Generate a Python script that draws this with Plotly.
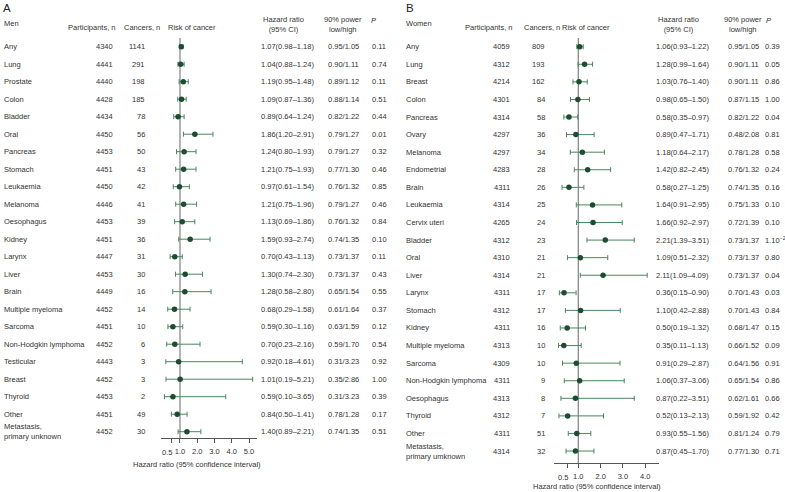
import plotly.graph_objects as go

# ---------------- DATA ----------------
men_sites = ["Any", "Lung", "Prostate", "Colon", "Bladder", "Oral", "Pancreas", "Stomach",
             "Leukaemia", "Melanoma", "Oesophagus", "Kidney", "Larynx", "Liver", "Brain",
             "Multiple myeloma", "Sarcoma", "Non-Hodgkin lymphoma", "Testicular", "Breast",
             "Thyroid", "Other", "Metastasis,<br>primary unknown"]
men_participants = [4340, 4441, 4440, 4428, 4434, 4450, 4453, 4451, 4450, 4446, 4453, 4451,
                    4447, 4453, 4449, 4452, 4451, 4452, 4443, 4452, 4453, 4451, 4452]
men_cancers = [1141, 291, 198, 185, 78, 56, 50, 43, 42, 41, 39, 36, 31, 30, 16, 14, 10, 6,
               3, 3, 2, 49, 30]
men_hr = [1.07, 1.04, 1.19, 1.09, 0.89, 1.86, 1.24, 1.21, 0.97, 1.21, 1.13, 1.59, 0.70, 1.30,
          1.28, 0.68, 0.59, 0.70, 0.92, 1.01, 0.59, 0.84, 1.40]
men_lo = [0.98, 0.88, 0.95, 0.87, 0.64, 1.20, 0.80, 0.75, 0.61, 0.75, 0.69, 0.93, 0.43, 0.74,
          0.58, 0.29, 0.30, 0.23, 0.18, 0.19, 0.10, 0.50, 0.89]
men_hi = [1.18, 1.24, 1.48, 1.36, 1.24, 2.91, 1.93, 1.93, 1.54, 1.96, 1.86, 2.74, 1.13, 2.30,
          2.80, 1.58, 1.16, 2.16, 4.61, 5.21, 3.65, 1.41, 2.21]
men_power = ["0.95/1.05", "0.90/1.11", "0.89/1.12", "0.88/1.14", "0.82/1.22", "0.79/1.27",
             "0.79/1.27", "0.77/1.30", "0.76/1.32", "0.79/1.27", "0.76/1.32", "0.74/1.35",
             "0.73/1.37", "0.73/1.37", "0.65/1.54", "0.61/1.64", "0.63/1.59", "0.59/1.70",
             "0.31/3.23", "0.35/2.86", "0.31/3.23", "0.78/1.28", "0.74/1.35"]
men_p = ["0.11", "0.74", "0.11", "0.51", "0.44", "0.01", "0.32", "0.46", "0.85", "0.46", "0.84",
         "0.10", "0.11", "0.43", "0.55", "0.37", "0.12", "0.54", "0.92", "1.00", "0.39", "0.17",
         "0.51"]

women_sites = ["Any", "Lung", "Breast", "Colon", "Pancreas", "Ovary", "Melanoma", "Endometrial",
               "Brain", "Leukaemia", "Cervix uteri", "Bladder", "Oral", "Liver", "Larynx",
               "Stomach", "Kidney", "Multiple myeloma", "Sarcoma", "Non-Hodgkin lymphoma",
               "Oesophagus", "Thyroid", "Other", "Metastasis,<br>primary umknown"]
women_participants = [4059, 4312, 4214, 4301, 4314, 4297, 4297, 4283, 4311, 4314, 4265, 4312,
                      4310, 4314, 4311, 4312, 4311, 4313, 4309, 4311, 4313, 4312, 4311, 4314]
women_cancers = [809, 193, 162, 84, 58, 36, 34, 28, 26, 25, 24, 23, 21, 21, 17, 17, 16, 10, 10,
                 9, 8, 7, 51, 32]
women_hr = [1.06, 1.28, 1.03, 0.98, 0.58, 0.89, 1.18, 1.42, 0.58, 1.64, 1.66, 2.21, 1.09, 2.11,
            0.36, 1.10, 0.50, 0.35, 0.91, 1.06, 0.87, 0.52, 0.93, 0.87]
women_lo = [0.93, 0.99, 0.76, 0.65, 0.35, 0.47, 0.64, 0.82, 0.27, 0.91, 0.92, 1.39, 0.51, 1.09,
            0.15, 0.42, 0.19, 0.11, 0.29, 0.37, 0.22, 0.13, 0.55, 0.45]
women_hi = [1.22, 1.64, 1.40, 1.50, 0.97, 1.71, 2.17, 2.45, 1.25, 2.95, 2.97, 3.51, 2.32, 4.09,
            0.90, 2.88, 1.32, 1.13, 2.87, 3.06, 3.51, 2.13, 1.56, 1.70]
women_power = ["0.95/1.05", "0.90/1.11", "0.90/1.11", "0.87/1.15", "0.82/1.22", "0.48/2.08",
               "0.78/1.28", "0.76/1.32", "0.74/1.35", "0.75/1.33", "0.72/1.39", "0.73/1.37",
               "0.73/1.37", "0.73/1.37", "0.70/1.43", "0.70/1.43", "0.68/1.47", "0.66/1.52",
               "0.64/1.56", "0.65/1.54", "0.62/1.61", "0.59/1.92", "0.81/1.24", "0.77/1.30"]
women_p = ["0.39", "0.05", "0.86", "1.00", "0.04", "0.81", "0.58", "0.24", "0.16", "0.10", "0.10",
           "1.10<sup>−2</sup>", "0.80", "0.04", "0.03", "0.84", "0.15", "0.09", "0.91", "0.86",
           "0.66", "0.42", "0.79", "0.71"]

tick_vals_men = [0.5, 1, 2, 3, 4, 5]
tick_text_men = ["0.5", "1.0", "2.0", "3.0", "4.0", "5.0"]
tick_vals_women = [0.5, 1, 2, 3, 4]
tick_text_women = ["0.5", "1.0", "2.0", "3.0", "4.0"]

# ---------------- STYLE / LAYOUT ----------------
W, H = 785, 492
FONT = "Liberation Sans, Arial, Helvetica, sans-serif"
TXT = "#333333"
FS = 7.5
MARK = "#1d4d30"
CI = "#4a8660"
REF = "#8a8a8a"


def px(x):
    return x / W


def py(y):
    return 1 - y / H


fig = go.Figure()

panels = [
    dict(sites=men_sites, part=men_participants, canc=men_cancers, hr=men_hr, lo=men_lo,
         hi=men_hi, power=men_power, p=men_p, xa="x", ya="y", letter="A", sex="Men",
         tv=tick_vals_men, tt=tick_text_men,
         lab_x=2, part_x=115, canc_x=147, risk_x=166, hr_x=259, hr_hc=287, pow_x=343,
         p_x=370, p_hx=373, letter_x=1, step=17.5, axis_y=438, title_y=464, title_x=197),
    dict(sites=women_sites, part=women_participants, canc=women_cancers, hr=women_hr,
         lo=women_lo, hi=women_hi, power=women_power, p=women_p, xa="x2", ya="y2",
         tv=tick_vals_women, tt=tick_text_women,
         letter="B", sex="Women", lab_x=404, part_x=512, canc_x=547, risk_x=560, hr_x=654,
         hr_hc=682, pow_x=743, p_x=763, p_hx=768, letter_x=404, step=17.58, axis_y=463,
         title_y=486, title_x=597),
]

annotations = []
shapes = []

for pn in panels:
    n = len(pn["sites"])
    rows = list(range(n))
    fig.add_trace(go.Scatter(
        x=pn["hr"], y=rows, xaxis=pn["xa"], yaxis=pn["ya"], mode="markers",
        marker=dict(color=MARK, size=5.5),
        error_x=dict(type="data", symmetric=False,
                     array=[h - m for h, m in zip(pn["hi"], pn["hr"])],
                     arrayminus=[m - l for m, l in zip(pn["hr"], pn["lo"])],
                     color=CI, thickness=1, width=2.5),
        showlegend=False, hoverinfo="skip", cliponaxis=False))

    shapes.append(dict(type="line", xref=pn["xa"], yref=pn["ya"] + " domain",
                       x0=1, x1=1, y0=0, y1=1, line=dict(color=REF, width=1.3),
                       layer="below"))

    yr = pn["ya"]
    for i in rows:
        common = dict(yref=yr, y=i, xref="paper", showarrow=False, yanchor="middle",
                      font=dict(family=FONT, size=FS, color=TXT))
        annotations.append(dict(text=pn["sites"][i], x=px(pn["lab_x"]), xanchor="left",
                                align="left", **common))
        annotations.append(dict(text=str(pn["part"][i]), x=px(pn["part_x"]),
                                xanchor="right", **common))
        annotations.append(dict(text=str(pn["canc"][i]), x=px(pn["canc_x"]),
                                xanchor="right", **common))
        annotations.append(dict(text="%.2f(%.2f–%.2f)" % (pn["hr"][i], pn["lo"][i], pn["hi"][i]),
                                x=px(pn["hr_x"]), xanchor="left", **common))
        annotations.append(dict(text=pn["power"][i], x=px(pn["pow_x"]), xanchor="center",
                                **common))
        annotations.append(dict(text=pn["p"][i], x=px(pn["p_x"]), xanchor="left", **common))

    # the first tick label (0.5) sits slightly left of its tick, as in the original
    annotations.append(dict(text=pn["tt"][0], x=pn["tv"][0], xref=pn["xa"],
                            y=py(pn["axis_y"] + 14.5), yref="paper", xshift=-4,
                            showarrow=False, xanchor="center", yanchor="middle",
                            font=dict(family=FONT, size=FS, color=TXT)))

    hcommon = dict(xref="paper", yref="paper", showarrow=False, yanchor="middle",
                   font=dict(family=FONT, size=FS, color=TXT))
    annotations += [
        dict(text=pn["letter"], x=px(pn["letter_x"]), y=py(8), xanchor="left",
             xref="paper", yref="paper", showarrow=False, yanchor="middle",
             font=dict(family=FONT, size=11.5, color="#222222")),
        dict(text=pn["sex"], x=px(pn["lab_x"]), y=py(23.5), xanchor="left", **hcommon),
        dict(text="Participants, n", x=px(pn["part_x"] + 3), y=py(27.5), xanchor="right",
             **hcommon),
        dict(text="Cancers, n", x=px(pn["canc_x"] + 15), y=py(27.5), xanchor="right",
             **hcommon),
        dict(text="Risk of cancer", x=px(pn["risk_x"]), y=py(27.5), xanchor="left", **hcommon),
        dict(text="Hazard ratio<br>(95% CI)", x=px(pn["hr_hc"] - 4), y=py(24),
             xanchor="center", **hcommon),
        dict(text="90% power<br>low/high", x=px(pn["pow_x"]), y=py(24), xanchor="center",
             **hcommon),
        dict(text="<i>P</i>", x=px(pn["p_hx"]), y=py(20.5), xanchor="center", **hcommon),
        dict(text="Hazard ratio (95% confidence interval)", x=px(pn["title_x"]),
             y=py(pn["title_y"]), xanchor="center", **hcommon),
    ]

# axis geometry (pixel-based layout of each panel)
top_px = 38
row0 = 46.7
men_step = panels[0]["step"]
wom_step = panels[1]["step"]


def yrange(axis_px, step):
    return [(axis_px - row0) / step, (top_px - row0) / step]


axis_common = dict(showline=True, linecolor="#555555", linewidth=1, ticks="outside",
                   ticklen=4, tickcolor="#555555", showgrid=False, zeroline=False,
                   tickangle=0, tickfont=dict(family=FONT, size=FS, color=TXT),
                   ticklabelstandoff=2)

fig.update_layout(
    width=W, height=H, margin=dict(l=0, r=0, t=0, b=0),
    paper_bgcolor="white", plot_bgcolor="white",
    xaxis=dict(domain=[px(161), px(257)], range=[-0.1, 5.46], anchor="y",
               tickvals=tick_vals_men, ticktext=[""] + tick_text_men[1:], **axis_common),
    yaxis=dict(domain=[py(438), py(top_px)], range=yrange(438, men_step), visible=False,
               anchor="x"),
    xaxis2=dict(domain=[px(553.8), px(659)], range=[-0.1, 4.62], anchor="y2",
                tickvals=tick_vals_women, ticktext=[""] + tick_text_women[1:],
                **axis_common),
    yaxis2=dict(domain=[py(463), py(top_px)], range=yrange(463, wom_step), visible=False,
                anchor="x2"),
    annotations=annotations, shapes=shapes,
)

fig.write_html("out.html", config={"displayModeBar": False},
               post_script="document.body.style.margin='0px';")
